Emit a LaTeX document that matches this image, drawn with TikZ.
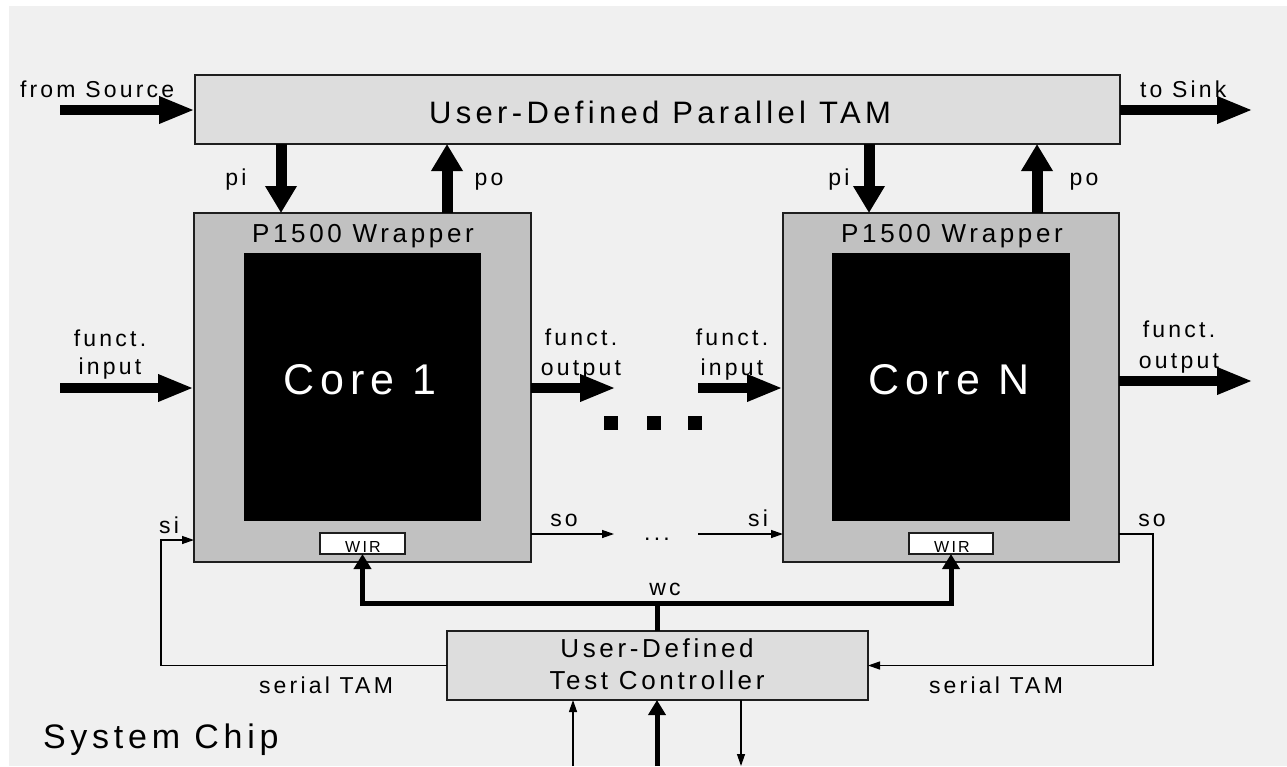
\documentclass[tikz,border=0pt]{standalone}
\usepackage{fontspec}
\setmainfont{Liberation Sans}[LetterSpace=14]
\usetikzlibrary{arrows.meta}
\definecolor{chipbg}{HTML}{F0F0F0}
\definecolor{tamfill}{HTML}{DDDDDD}
\definecolor{wrapfill}{HTML}{C1C1C1}
\definecolor{edgecol}{HTML}{1E1E1E}

\tikzset{
  box/.style={draw=edgecol, line width=1.5pt, inner sep=0pt, outer sep=0pt, anchor=north west},
  txt/.style={inner sep=0pt, outer sep=0pt, anchor=base, align=center},
  small/.style={txt, font=\fontsize{23}{29}\selectfont},
  bigH/.style={line width=10pt, -{Triangle[length=36pt,width=25pt]}},
  bigV/.style={line width=11pt, -{Triangle[length=27pt,width=30pt]}},
  wcarrow/.style={line width=5pt, -{Triangle[length=15pt,width=17pt]}},
  thinarrow/.style={line width=1.3pt, -{Triangle[length=12pt,width=8pt]}},
  dotsq/.style={fill=black, inner sep=0pt, minimum size=14pt, anchor=north west},
}

\begin{document}
\begin{tikzpicture}[x=1pt,y=-1pt]
% page and chip area
\fill[white] (0,0) rectangle (1287,766);
\fill[chipbg] (9,6) rectangle (1287,766);
\useasboundingbox (0,0) rectangle (1287,766);

% parallel TAM
\node[box, fill=tamfill, minimum width=925pt, minimum height=69pt] (tam) at (195,75) {};
\node[txt, font=\fontsize{31}{37}\selectfont] (tamtxt) at (660,123) {User-Defined Parallel TAM};

% wrapped cores
\node[box, fill=wrapfill, minimum width=337pt, minimum height=349pt] (w1) at (194,213) {};
\node[box, draw=none, fill=black, minimum width=237pt, minimum height=268pt] (c1) at (244,253) {};
\node[box, fill=white, minimum width=85pt, minimum height=21pt] (wir1) at (320,533) {};
\node[txt, font=\fontsize{26}{31}\selectfont] (w1txt) at (363,242) {P1500 Wrapper};
\node[txt, font=\fontsize{43}{50}\selectfont, text=white] (c1txt) at (360,394) {Core 1};
\node[txt, font=\fontsize{16}{19}\selectfont] (wir1txt) at (363,552) {WIR};

\node[box, fill=wrapfill, minimum width=336pt, minimum height=349pt] (wN) at (783,213) {};
\node[box, draw=none, fill=black, minimum width=238pt, minimum height=268pt] (cN) at (832,253) {};
\node[box, fill=white, minimum width=84pt, minimum height=21pt] (wirN) at (909,533) {};
\node[txt, font=\fontsize{26}{31}\selectfont] (wNtxt) at (952,242) {P1500 Wrapper};
\node[txt, font=\fontsize{43}{50}\selectfont, text=white] (cNtxt) at (949,394) {Core N};
\node[txt, font=\fontsize{16}{19}\selectfont] (wirNtxt) at (952,552) {WIR};

% test controller
\node[box, fill=tamfill, minimum width=421pt, minimum height=69pt] (tc) at (447,631) {};
\node[txt, font=\fontsize{26}{31}\selectfont] (tctxt1) at (657,657) {User-Defined};
\node[txt, font=\fontsize{26}{31}\selectfont] (tctxt2) at (657,689) {Test Controller};

% ellipsis between the cores
\node[dotsq] (dot1) at (604,416) {};
\node[dotsq] (dot2) at (647,416) {};
\node[dotsq] (dot3) at (688,416) {};
\node[small] (sdots) at (657,540) {...};

% free ends of connectors
\coordinate (src) at (60,110);
\coordinate (snk) at (1253,110);
\coordinate (fiL) at (60,388);
\coordinate (fo1) at (616,388);
\coordinate (fiN) at (698,388);
\coordinate (foN) at (1253,381);
\coordinate (pi1) at (281,0);
\coordinate (po1) at (447,0);
\coordinate (piN) at (869,0);
\coordinate (poN) at (1037,0);
\coordinate (soy) at (0,534);
\coordinate (siy) at (0,540);
\coordinate (so1end) at (614,534);
\coordinate (siNstart) at (698,534);
\coordinate (sxL) at (161,0);
\coordinate (sxR) at (1153,0);
\coordinate (wcy) at (0,603);
\coordinate (b1) at (573,766);
\coordinate (b2) at (657,766);
\coordinate (b3) at (741,766);

% parallel TAM connections
\draw[bigH] (src) -- (src -| tam.west);
\draw[bigH] (tam.east |- snk) -- (snk);
\draw[bigV] (pi1 |- tam.south) -- (pi1 |- w1.north);
\draw[bigV] (po1 |- w1.north) -- (po1 |- tam.south);
\draw[bigV] (piN |- tam.south) -- (piN |- wN.north);
\draw[bigV] (poN |- wN.north) -- (poN |- tam.south);

% functional connections
\draw[bigH] (fiL) -- (fiL -| w1.west);
\draw[bigH] (w1.east |- fo1) -- (fo1);
\draw[bigH] (fiN) -- (fiN -| wN.west);
\draw[bigH] (wN.east |- foN) -- (foN);

% serial TAM
\draw[thinarrow] (tc.west) -- (sxL |- tc.west) -- (sxL |- siy) -- (w1.west |- siy);
\draw[thinarrow] (w1.east |- soy) -- (so1end);
\draw[thinarrow] (siNstart) -- (wN.west |- soy);
\draw[thinarrow] (wN.east |- soy) -- (sxR |- soy) -- (sxR |- tc.east) -- (tc.east);

% wrapper control
\draw[line width=5pt] (tc.north) -- (tc.north |- wcy);
\draw[wcarrow] (tc.north |- wcy) -- (wir1.south |- wcy) -- (wir1.south);
\draw[wcarrow] (tc.north |- wcy) -- (wirN.south |- wcy) -- (wirN.south);

% controller terminals
\draw[thinarrow] (b1) -- (b1 |- tc.south);
\draw[wcarrow] (b2) -- (b2 |- tc.south);
\draw[thinarrow] (b3 |- tc.south) -- (b3);

% labels
\node[small, anchor=base west] (lsrc) at (20,97) {from Source};
\node[small, anchor=base west] (lsnk) at (1140,97) {to Sink};
\node[small] (lpi1) at (236,185) {pi};
\node[small] (lpo1) at (489,185) {po};
\node[small] (lpiN) at (839,185) {pi};
\node[small] (lpoN) at (1084,185) {po};
\node[small] (lfi1a) at (110,346) {funct.};
\node[small] (lfi1b) at (110,374) {input};
\node[small] (lfo1a) at (581,345) {funct.};
\node[small] (lfo1b) at (581,375) {output};
\node[small] (lfiNa) at (732,345) {funct.};
\node[small] (lfiNb) at (732,375) {input};
\node[small] (lfoNa) at (1179,337) {funct.};
\node[small] (lfoNb) at (1179,368) {output};
\node[small] (lso1) at (564,526) {so};
\node[small] (lsiN) at (758,526) {si};
\node[small] (lsoN) at (1152,526) {so};
\node[small] (lsi1) at (169,533) {si};
\node[small] (lwc) at (665,595) {wc};
\node[small] (lstL) at (326,693) {serial TAM};
\node[small] (lstR) at (996,693) {serial TAM};
\node[txt, anchor=base west, font=\fontsize{34}{40}\selectfont] (chip) at (43,748) {System Chip};
\end{tikzpicture}
\end{document}
